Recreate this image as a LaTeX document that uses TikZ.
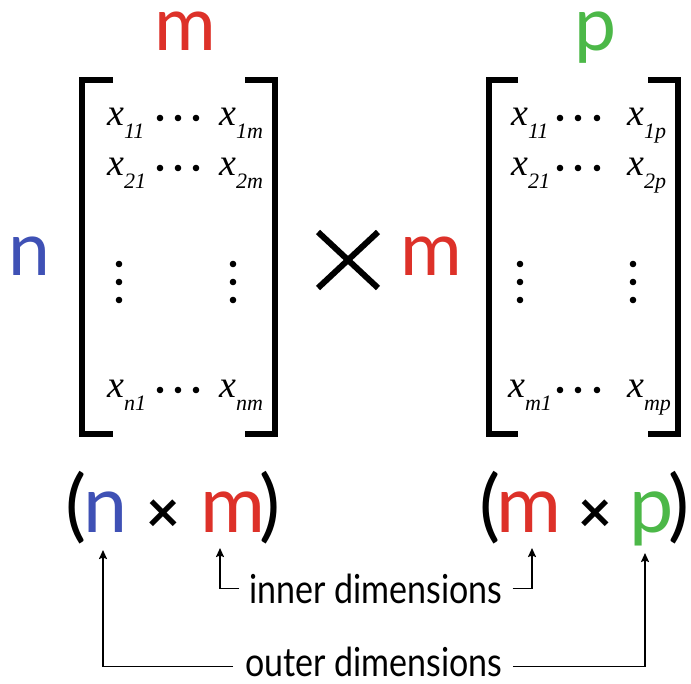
\documentclass[tikz,border=0pt]{standalone}
\usepackage{fontspec}
\setmainfont{Lato}
\newfontfamily\subfont{Liberation Serif}
\usepackage{xcolor}
\usetikzlibrary{arrows.meta}
\definecolor{nc}{HTML}{3F51B5}
\definecolor{mc}{HTML}{DD3129}
\definecolor{pc}{HTML}{4CB848}
\newcommand{\ent}[1]{{\fontsize{38}{38}\selectfont\subfont\itshape x}\raisebox{-13pt}{\fontsize{22}{22}\selectfont\subfont\itshape #1}}
\newcommand{\narrow}[1]{\scalebox{0.85}[1]{#1}}
\tikzset{
  bracket/.style={line width=6pt},
  entry/.style={anchor=base west, inner sep=0pt},
  bigdim/.style={anchor=base, inner sep=0pt, font=\fontsize{75}{75}\selectfont},
  lowdim/.style={anchor=base, inner sep=0pt, font=\fontsize{79}{79}\selectfont},
  timesc/.style={anchor=base, inner sep=0pt, font=\fontsize{58}{58}\selectfont\bfseries},
  dimtext/.style={anchor=base, inner sep=0pt, font=\fontsize{40}{40}\selectfont},
  pointer/.style={line width=1.8pt, -{Stealth[length=9pt,width=8pt,inset=1.5pt]}},
  dot/.style={fill=black},
}

\begin{document}
\begin{tikzpicture}[x=1pt,y=-1pt]
\useasboundingbox (0,0) rectangle (691,683);
% left matrix
\draw[bracket] (113,80) -- (81.5,80) -- (81.5,434) -- (113,434);
\draw[bracket] (245,80) -- (275,80) -- (275,434) -- (245,434);
\node[entry] (a11) at (107,125) {\ent{11}};
\node[entry] (a1m) at (219,125) {\ent{1m}};
\node[entry] (a21) at (107,175) {\ent{21}};
\node[entry] (a2m) at (219,175) {\ent{2m}};
\node[entry] (an1) at (107,397) {\ent{n1}};
\node[entry] (anm) at (219,397) {\ent{nm}};
\fill[dot] (160,118) circle (3.3pt) (178,118) circle (3.3pt) (196,118) circle (3.3pt);
\fill[dot] (160,168) circle (3.3pt) (178,168) circle (3.3pt) (196,168) circle (3.3pt);
\fill[dot] (160,390) circle (3.3pt) (178,390) circle (3.3pt) (196,390) circle (3.3pt);
\fill[dot] (119,264) circle (3.3pt) (119,282) circle (3.3pt) (119,300) circle (3.3pt);
\fill[dot] (233,264) circle (3.3pt) (233,282) circle (3.3pt) (233,300) circle (3.3pt);
% right matrix
\draw[bracket] (518,80) -- (489,80) -- (489,434) -- (518,434);
\draw[bracket] (648,80) -- (678,80) -- (678,434) -- (648,434);
\node[entry] (b11) at (511,125) {\ent{11}};
\node[entry] (b1p) at (627,125) {\ent{1p}};
\node[entry] (b21) at (511,175) {\ent{21}};
\node[entry] (b2p) at (627,175) {\ent{2p}};
\node[entry] (bm1) at (508,397) {\ent{m1}};
\node[entry] (bmp) at (627,397) {\ent{mp}};
\fill[dot] (560,118) circle (3.3pt) (578,118) circle (3.3pt) (597,118) circle (3.3pt);
\fill[dot] (560,168) circle (3.3pt) (578,168) circle (3.3pt) (597,168) circle (3.3pt);
\fill[dot] (560,390) circle (3.3pt) (578,390) circle (3.3pt) (597,390) circle (3.3pt);
\fill[dot] (520,264) circle (3.3pt) (520,282) circle (3.3pt) (520,300) circle (3.3pt);
\fill[dot] (633,264) circle (3.3pt) (633,282) circle (3.3pt) (633,300) circle (3.3pt);
% sizes round the matrices
\node[bigdim, text=mc] (mtop) at (185,50) {m};
\node[bigdim, text=pc] (ptop) at (596,50) {p};
\node[bigdim, text=nc] (nleft) at (29,275) {n};
\node[bigdim, text=mc] (mmid) at (431,275) {m};
\draw[line width=6pt] (318,232) -- (378,288) (378,232) -- (318,288);
% shapes below
\node[lowdim] (lpa) at (76,532) {(};
\node[lowdim, text=nc] (nA) at (106,532) {n};
\node[timesc] (xA) at (163,532) {×};
\node[lowdim, text=mc] (mA) at (233,532) {m};
\node[lowdim] (rpa) at (270,532) {)};
\node[lowdim] (lpb) at (490,532) {(};
\node[lowdim, text=mc] (mB) at (529,532) {m};
\node[timesc] (xB) at (595,532) {×};
\node[lowdim, text=pc] (pB) at (652,532) {p};
\node[lowdim] (rpb) at (679,532) {)};
\node[dimtext] (inner) at (376,603) {\narrow{inner dimensions}};
\node[dimtext] (outer) at (374,676) {\narrow{outer dimensions}};
\draw[pointer] ([xshift=-10pt]inner.west) -| ([xshift=-13pt,yshift=-16pt]mA.base);
\draw[pointer] ([xshift=10pt]inner.east) -| ([xshift=3pt,yshift=-16pt]mB.base);
\draw[pointer] ([xshift=-12pt,yshift=-5pt]outer.west) -| ([xshift=-3pt,yshift=-18pt]nA.base);
\draw[pointer] ([xshift=10pt,yshift=-5pt]outer.east) -| ([xshift=-7pt,yshift=-21pt]pB.base);
\end{tikzpicture}
\end{document}
